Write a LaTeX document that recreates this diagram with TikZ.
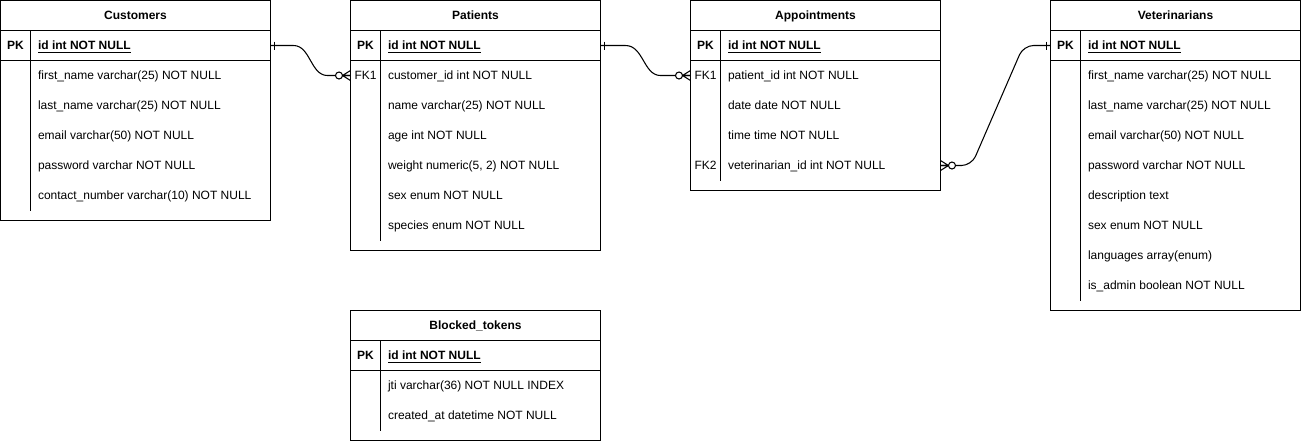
\documentclass[tikz,border=0pt]{standalone}
\usepackage{fontspec}
\setmainfont{Liberation Sans}
\usetikzlibrary{positioning}
\newcommand\erfont{\fontsize{6.83}{8.2}\selectfont}

\begin{document}
\begin{tikzpicture}[x=0.02cm,y=-0.02cm,line width=0.6pt,
  hdr/.style={draw,minimum height=0.6cm,inner sep=0pt,outer sep=0pt,text height=0.172cm,text depth=0pt,font=\erfont\bfseries},
  key/.style={minimum width=0.6cm,minimum height=0.6cm,inner sep=0pt,outer sep=0pt,text height=0.172cm,text depth=0pt,font=\erfont},
  pkkey/.style={key,font=\erfont\bfseries},
  fld/.style={anchor=west,inner sep=0pt,text height=0.172cm,text depth=0pt,font=\erfont},
  pkfld/.style={fld,font=\erfont\bfseries},
  rel/.style={draw,line width=0.6pt},
  zmany/.pic={\draw (0,-5) -- (-8,0) -- (0,5) (0,0) -- (-8,0); \draw[fill=white] (-11.5,0) circle (3.5);},
  onebar/.pic={\draw (-4,-4) -- (-4,4);}]
\useasboundingbox (-0.5,-0.5) rectangle (1300.5,440.5);

% Customers
\begin{scope}
\node[hdr,minimum width=5.4cm] (cust) at (135,15) {Customers};
\node[pkkey] (cust-pk) at (15,45) {PK};
\node[pkfld] at (37,45) {\underline{id int NOT NULL}};
\foreach \f [count=\i] in {first\_name varchar(25) NOT NULL,last\_name varchar(25) NOT NULL,email varchar(50) NOT NULL,password varchar NOT NULL,contact\_number varchar(10) NOT NULL}
  \node[fld] at (37,45+30*\i) {\f};
\draw (0,0) rectangle (270,220) (0,60) -- (270,60) (30,30) -- (30,210);
\end{scope}

% Patients
\begin{scope}[shift={(350,0)}]
\node[hdr,minimum width=5cm] (pat) at (125,15) {Patients};
\node[pkkey] (pat-pk) at (15,45) {PK};
\node[pkfld] at (37,45) {\underline{id int NOT NULL}};
\node[key] (pat-fk1) at (15,75) {FK1};
\foreach \f [count=\i] in {customer\_id int NOT NULL,name varchar(25) NOT NULL,age int NOT NULL,{weight numeric(5, 2) NOT NULL},sex enum NOT NULL,species enum NOT NULL}
  \node[fld] at (37,45+30*\i) {\f};
\draw (0,0) rectangle (250,250) (0,60) -- (250,60) (30,30) -- (30,240);
\end{scope}

% Appointments
\begin{scope}[shift={(690,0)}]
\node[hdr,minimum width=5cm] (appt) at (125,15) {Appointments};
\node[pkkey] (appt-pk) at (15,45) {PK};
\node[pkfld] at (37,45) {\underline{id int NOT NULL}};
\node[key] (appt-fk1) at (15,75) {FK1};
\node[key] (appt-fk2) at (15,165) {FK2};
\foreach \f [count=\i] in {patient\_id int NOT NULL,date date NOT NULL,time time NOT NULL,veterinarian\_id int NOT NULL}
  \node[fld] at (37,45+30*\i) {\f};
\draw (0,0) rectangle (250,190) (0,60) -- (250,60) (30,30) -- (30,180);
\end{scope}

% Veterinarians
\begin{scope}[shift={(1050,0)}]
\node[hdr,minimum width=5cm] (vet) at (125,15) {Veterinarians};
\node[pkkey] (vet-pk) at (15,45) {PK};
\node[pkfld] at (37,45) {\underline{id int NOT NULL}};
\foreach \f [count=\i] in {first\_name varchar(25) NOT NULL,last\_name varchar(25) NOT NULL,email varchar(50) NOT NULL,password varchar NOT NULL,description text,sex enum NOT NULL,languages array(enum),is\_admin boolean NOT NULL}
  \node[fld] at (37,45+30*\i) {\f};
\draw (0,0) rectangle (250,310) (0,60) -- (250,60) (30,30) -- (30,300);
\end{scope}

% Blocked_tokens
\begin{scope}[shift={(350,310)}]
\node[hdr,minimum width=5cm] (tok) at (125,15) {Blocked\_tokens};
\node[pkkey] (tok-pk) at (15,45) {PK};
\node[pkfld] at (37,45) {\underline{id int NOT NULL}};
\foreach \f [count=\i] in {jti varchar(36) NOT NULL INDEX,created\_at datetime NOT NULL}
  \node[fld] at (37,45+30*\i) {\f};
\draw (0,0) rectangle (250,130) (0,60) -- (250,60) (30,30) -- (30,120);
\end{scope}

% relations
\draw[rel] (cust-pk -| cust.east) -- (293,45) .. controls (310,45) and (310,75) .. (327,75) -- (pat-fk1.west);
\draw[rel] (pat-pk -| pat.east) -- (625,45) .. controls (643,45) and (643,75) .. (660,75) -- (appt-fk1.west);
\draw[rel,rounded corners=0.2cm] (appt-fk2 -| appt.east) -- (971,165) -- (1023,45) -- (vet-pk.west);
\pic at (pat-fk1.west) {zmany};
\pic at (appt-fk1.west) {zmany};
\pic[xscale=-1] at (appt-fk2 -| appt.east) {zmany};
\pic[xscale=-1] at (cust-pk -| cust.east) {onebar};
\pic[xscale=-1] at (pat-pk -| pat.east) {onebar};
\pic at (vet-pk.west) {onebar};
\end{tikzpicture}
\end{document}
